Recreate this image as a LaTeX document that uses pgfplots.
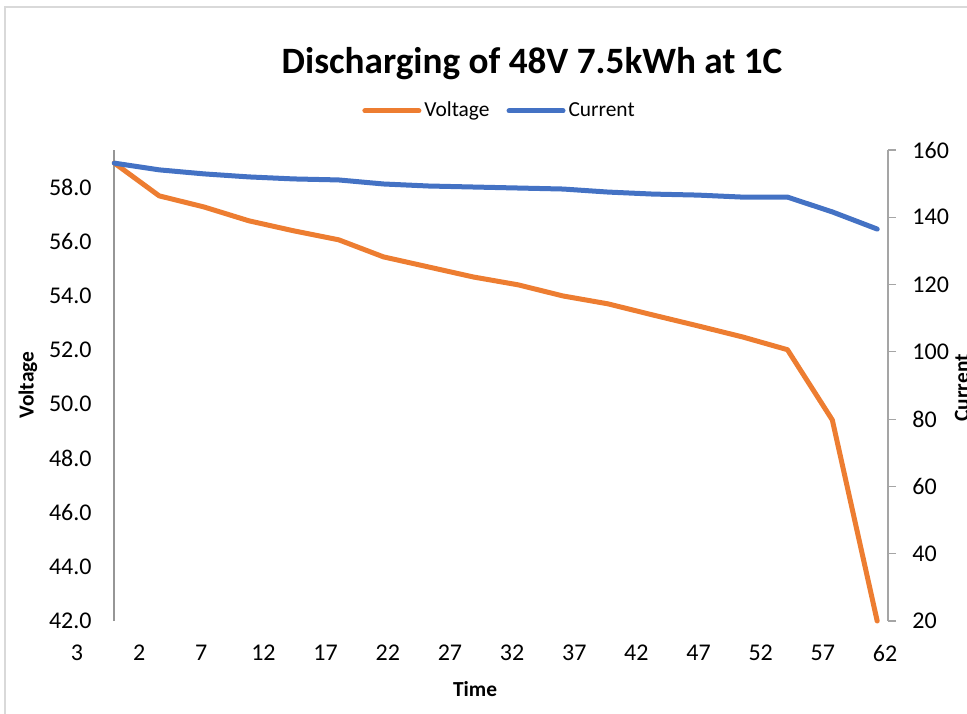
\documentclass[border=0pt]{standalone}
\usepackage{pgfplots}
\usepackage{pgfplotstable}
\pgfplotsset{compat=1.18}
\usepackage{fontspec}
\setmainfont{Carlito}
\definecolor{vorange}{RGB}{237,125,49}
\definecolor{cblue}{RGB}{68,114,196}
\definecolor{axgray}{RGB}{150,150,150}
\definecolor{raxgray}{RGB}{165,165,165}
\definecolor{bordergray}{RGB}{217,217,217}

\pgfplotstableread{
t      V      I
0.00   58.88  156.1
3.61   57.67  154.1
7.22   57.26  152.9
10.83  56.75  152.0
14.44  56.38  151.4
18.05  56.05  151.1
21.66  55.42  149.9
25.27  55.05  149.3
28.88  54.68  149.0
32.49  54.39  148.7
36.10  53.98  148.4
39.71  53.69  147.5
43.32  53.28  146.9
46.93  52.88  146.6
50.54  52.47  146.0
54.15  52.00  146.0
57.76  49.41  141.6
61.37  42.00  136.5
}\datatable

\begin{document}
\begin{tikzpicture}
\useasboundingbox (-38.5pt,-46pt) rectangle (445pt,310.5pt);
\draw[bordergray, line width=0.75pt] (-36pt,-50pt) -- (-36pt,307pt) -- (450pt,307pt);
\begin{axis}[
  at={(0,0)}, anchor=south west,
  scale only axis, width=405.5pt, height=235.5pt,
  xmin=-3, xmax=62.24, ymin=42, ymax=59.36,
  separate axis lines,
  axis line style={draw=none},
  major tick length=0pt,
  xtick={-3,2,...,62},
  xticklabels={3,2,7,12,17,22,27,32,37,42,47,52,57,62},
  ytick={42,44,...,58},
  xticklabel style={anchor=north, inner sep=0pt, yshift=-12pt},
  yticklabel style={anchor=east, inner sep=0pt, xshift=7.5pt},
  tick label style={font=\fontsize{12}{14}\selectfont},
  /pgf/number format/.cd, fixed, fixed zerofill, precision=1, assume math mode=true,
  /pgfplots/.cd,
  xlabel={Time},
  xlabel style={font=\bfseries\fontsize{10.7}{12}\selectfont, at={(axis description cs:0.4908,-0.1444)}, anchor=center},
  ylabel={Voltage},
  ylabel style={font=\bfseries\fontsize{10.7}{12}\selectfont, at={(axis description cs:-0.0604,0.501)}, anchor=center, rotate=0},
  clip=false,
]
\draw[axgray, line width=1pt] (axis cs:0,42) -- (axis cs:0,59.36);
\addplot[vorange, line width=2.5pt, line join=round, line cap=round] table[x=t,y=V] {\datatable};
\end{axis}
\begin{axis}[
  at={(0,0)}, anchor=south west,
  scale only axis, width=405.5pt, height=235.5pt,
  xmin=-3, xmax=62.24, ymin=20, ymax=160,
  axis x line=none,
  axis y line*=right,
  y axis line style={raxgray, line width=0.6pt},
  ytick={20,40,...,160},
  ytick style={raxgray, line width=0.6pt},
  tick align=outside,
  major tick length=4pt,
  yticklabel style={anchor=west, inner sep=0pt, xshift=8pt, font=\fontsize{12}{14}\selectfont},
  /pgf/number format/assume math mode=true,
  ylabel={Current},
  ylabel style={font=\bfseries\fontsize{10.7}{12}\selectfont, at={(axis description cs:1.0912,0.495)}, anchor=center, rotate=0},
  legend columns=2,
  legend style={at={(axis description cs:0.5216,1.083)}, anchor=center, draw=none, fill=none,
    font=\fontsize{10.7}{12}\selectfont,
    /tikz/every even column/.append style={column sep=7pt},
    nodes={inner sep=1.5pt}},
  legend image code/.code={\draw[#1, line cap=round] (0pt,0pt) -- (27pt,0pt);},
  clip=false,
]
\addlegendimage{vorange, line width=2.5pt}
\addlegendentry{Voltage}
\addplot[cblue, line width=2.5pt, line join=round, line cap=round] table[x=t,y=I] {\datatable};
\addlegendentry{Current}
\end{axis}
\node[font=\bfseries\fontsize{18.6}{22}\selectfont, anchor=base] at (227.5pt,273.5pt) {Discharging of 48V 7.5kWh at 1C};
\end{tikzpicture}
\end{document}
